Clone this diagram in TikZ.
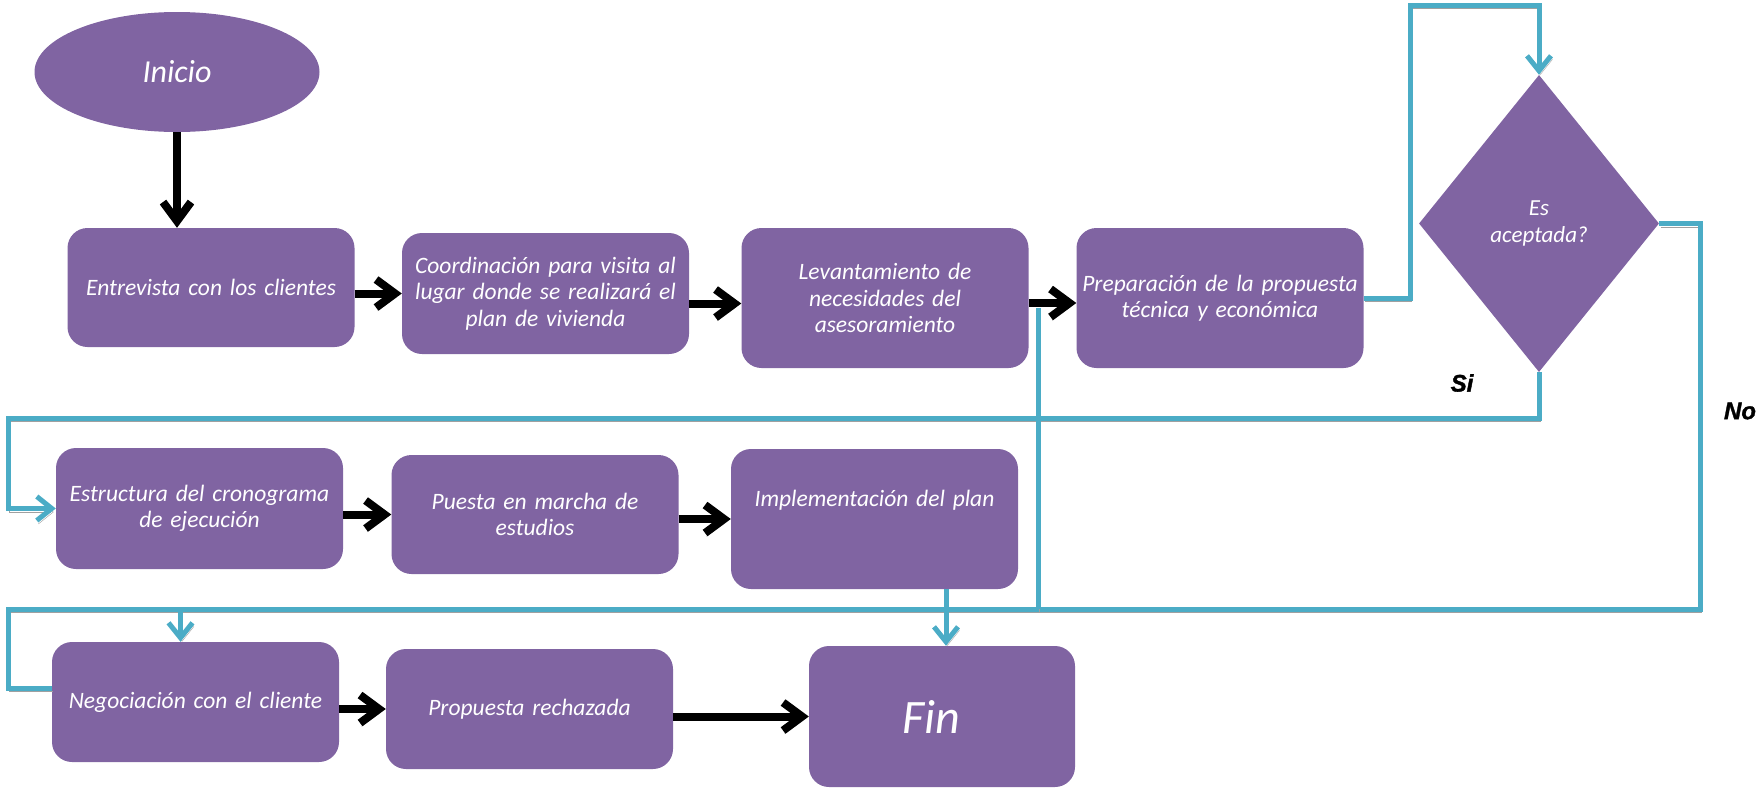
\documentclass[tikz,border=0pt]{standalone}
\usepackage{fontspec}
\setmainfont{Carlito}
\newfontfamily\labelfont{Liberation Sans}[FakeBold=1.5]
\usetikzlibrary{shapes.geometric, arrows.meta}
\definecolor{box-purple}{HTML}{8064A2}
\definecolor{line-blue}{HTML}{4BACC6}
\definecolor{line-shadow}{HTML}{A0A0A0}
\tikzset{
    purple-box/.style = {fill=box-purple, rectangle, rounded corners=20pt, minimum width=287pt, minimum height=120pt, inner sep=0pt, text width=285pt, align=center, text=white, font=\fontsize{23.5}{26.5}\selectfont\itshape},
    start-oval/.style = {fill=box-purple, ellipse, minimum width=285pt, minimum height=120pt, text=white, font=\fontsize{32}{38}\selectfont\itshape},
    decision-diamond/.style = {fill=box-purple, diamond, minimum width=240pt, minimum height=297pt, inner sep=0pt, align=center, text=white, font=\fontsize{23}{26.5}\selectfont\itshape},
    answer-label/.style = {font=\fontsize{24}{28}\selectfont\labelfont\bfseries\itshape},
    shadowed/.style = {preaction={draw=line-shadow, transform canvas={xshift=1.5pt, yshift=-3.5pt}}},
    black-arrow/.style = {draw=black, line width=8pt, -{Straight Barb[length=19pt, width=28pt]}, shadowed},
    blue-line/.style = {draw=line-blue, line width=5pt, shadowed},
    blue-arrow/.style = {blue-line, -{Straight Barb[length=15pt, width=24pt]}},
}

\begin{document}
\begin{tikzpicture}[x=1pt, y=-1pt]
\useasboundingbox (0,0) rectangle (1760,787);
\node[start-oval] (inicio) at (177,72) {Inicio};
\node[purple-box, minimum height=119pt] (entrevista) at (211,287.5) {Entrevista con los clientes};
\node[purple-box, minimum height=121pt] (coordinacion) at (545.5,293.5) {Coordinación para visita al\\lugar donde se realizará el\\plan de vivienda};
\node[purple-box, minimum height=140pt] (levantamiento) at (885,298) {Levantamiento de\\necesidades del\\asesoramiento};
\node[purple-box, minimum height=140pt] (preparacion) at (1220,298) {Preparación de la propuesta\\técnica y económica};
\node[decision-diamond] (aceptada) at (1539,223.5) {Es\\aceptada?};
\node[purple-box, minimum height=121pt] (estructura) at (199.5,508.5) {Estructura del cronograma\\de ejecución};
\node[purple-box, minimum height=119pt] (puesta) at (535,514.5) {Puesta en marcha de\\estudios};
\node[purple-box, minimum height=140pt] (implementacion) at (874.5,519) {Implementación del plan\\[14pt]~};
\node[purple-box] (negociacion) at (195.5,702) {Negociación con el cliente};
\node[purple-box] (rechazada) at (529.5,709) {Propuesta rechazada};
\node[purple-box, minimum width=266pt, minimum height=141pt, text width=220pt, font=\fontsize{48}{54}\selectfont\itshape] (fin) at (942,716.5) {Fin\hspace*{22pt}};
\node[answer-label] (si) at (1462,383) {Si};
\node[answer-label] (no) at (1740,411) {No};

\coordinate (no-left) at (8,609);
\coordinate (no-up) at (1038,609);
\draw[blue-arrow] (preparacion.east) -| (1410,5) -| (aceptada.north);
\draw[blue-arrow] (aceptada.south) |- (8,418) |- (estructura.west);
\draw[blue-line] (aceptada.east) -| (1700,609) -- (no-left) |- ([yshift=14pt]negociacion.west);
\draw[blue-arrow] ([xshift=-15pt]negociacion.north |- no-left) -- ([xshift=-15pt]negociacion.north);
\draw[blue-line] (no-up) -- ++(0,-301);
\draw[blue-arrow] ([xshift=4pt]fin.north |- implementacion.south) -- ([xshift=4pt]fin.north);

\draw[black-arrow] (inicio.south) -- (inicio.south |- entrevista.north);
\draw[black-arrow] (entrevista.east |- coordinacion.west) -- (coordinacion.west);
\draw[black-arrow] ([yshift=-10pt]coordinacion.east) -- ([yshift=-10pt]coordinacion.east -| levantamiento.west);
\draw[black-arrow] ([yshift=-5pt]levantamiento.east) -- ([yshift=-5pt]levantamiento.east -| preparacion.west);
\draw[black-arrow] (estructura.east |- puesta.west) -- (puesta.west);
\draw[black-arrow] (puesta.east |- implementacion.west) -- (implementacion.west);
\draw[black-arrow] (negociacion.east |- rechazada.west) -- (rechazada.west);
\draw[black-arrow] (rechazada.east |- fin.west) -- (fin.west);
\end{tikzpicture}
\end{document}
